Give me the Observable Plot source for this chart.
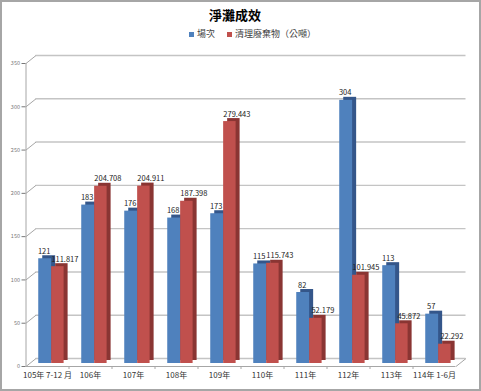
<!DOCTYPE html>
<html>
<head>
<meta charset="utf-8">
<script src="https://cdn.jsdelivr.net/npm/d3@7"></script>
<script src="https://cdn.jsdelivr.net/npm/@observablehq/plot@0.6"></script>
<style>
  html, body { margin: 0; padding: 0; background: #fff; }
  #wrap { width: 481px; height: 391px; box-sizing: border-box; border: 2px solid #a6a6a6; background: #fff;
          font-family: "Noto Sans CJK TC", "Noto Sans", sans-serif; overflow: hidden; }
  #title { height: 26px; line-height: 26px; padding-left: 207px; font-size: 13px; font-weight: bold; color: #000; }
  #legend { height: 12px; line-height: 12px; padding-left: 187px; font-size: 9px; color: #404040; display: flex; align-items: center; }
  #legend .sw { display: inline-block; width: 5px; height: 5px; margin-right: 3px; }
  #legend .item { display: flex; align-items: center; margin-right: 12px; }
  svg { display: block; }
</style>
</head>
<body>
<div id="wrap">
  <div id="title">淨灘成效</div>
  <div id="legend"></div>
  <div id="chart"></div>
</div>
<script>
const categories = ["105年 7-12 月", "106年", "107年", "108年", "109年", "110年", "111年", "112年", "113年", "114年 1-6月"];
const sessions = [121, 183, 176, 168, 173, 115, 82, 304, 113, 57];
const waste = [111.817, 204.708, 204.911, 187.398, 279.443, 115.743, 52.179, 101.945, 45.872, 22.292];
const seriesNames = ["場次", "清理廢棄物（公噸）"];
const yTicks = [0, 50, 100, 150, 200, 250, 300, 350];

const blue = "#4f81bd", blueSide = "#34568a";
const red = "#c0504d", redSide = "#8a3533";

const W = 477, H = 349;
const mL = 23.5, mR = 23.5, mT = 23, mB = 23;
const pxX = (W - mL - mR) / 10;           // px per x unit
const pxY = (H - mT - mB) / 350;          // px per y unit
const BX = 10 / pxX, BY = 8 / pxY;        // back-wall offset in data units

const rows = categories.map((c, i) => ({i, c, s: sessions[i], w: waste[i]}));

// legend
const leg = document.getElementById("legend");
[[blue, seriesNames[0]], [red, seriesNames[1]]].forEach(([col, name]) => {
  const it = document.createElement("span");
  it.className = "item";
  it.innerHTML = `<span class="sw" style="background:${col}"></span><span>${name}</span>`;
  leg.appendChild(it);
});

const gridColor = "#c4c4c4", axisColor = "#a6a6a6";
const font = "Noto Sans CJK TC";

const chart = Plot.plot({
  width: W, height: H,
  marginLeft: mL, marginRight: mR, marginTop: mT, marginBottom: mB,
  style: {fontFamily: font, background: "#fff", overflow: "visible"},
  x: {domain: [-0.5, 9.5], axis: null},
  y: {domain: [0, 350], axis: null},
  marks: [
    // back wall gridlines
    Plot.ruleY(yTicks, {y: t => t + BY, x1: -0.5 + BX, x2: 9.5 + BX, stroke: gridColor, strokeWidth: 1.4}),
    // left side diagonals
    Plot.link(yTicks, {x1: -0.5, y1: t => t, x2: -0.5 + BX, y2: t => t + BY, stroke: axisColor, strokeWidth: 1}),
    // floor right diagonal
    Plot.link([0], {x1: 9.5, y1: 0, x2: 9.5 + BX, y2: BY, stroke: axisColor, strokeWidth: 1}),
    // front vertical axis line
    Plot.ruleX([-0.5], {y1: 0, y2: 350, stroke: axisColor}),
    // floor front edge
    Plot.ruleY([0], {x1: -0.5, x2: 9.5, stroke: axisColor}),
    // blue bars (side/top, then front)
    Plot.rect(rows, {x1: d => d.i - 0.32, x2: d => d.i - 0.02, y1: 0, y2: "s", fill: blueSide, dx: 9, dy: -6}),
    Plot.rect(rows, {x1: d => d.i - 0.32, x2: d => d.i - 0.02, y1: 0, y2: "s", fill: blue, dx: 5, dy: -3}),
    // red bars
    Plot.rect(rows, {x1: d => d.i - 0.02, x2: d => d.i + 0.27, y1: 0, y2: "w", fill: redSide, dx: 9, dy: -6}),
    Plot.rect(rows, {x1: d => d.i - 0.02, x2: d => d.i + 0.27, y1: 0, y2: "w", fill: red, dx: 5, dy: -3}),
    // value labels
    Plot.text(rows, {x: d => d.i - 0.17, y: "s", text: d => String(d.s), dx: 4, dy: -8, lineAnchor: "bottom", fontSize: 7.5, fill: "#222"}),
    Plot.text(rows, {x: d => d.i + 0.125, y: "w", text: d => String(d.w), dx: 12, dy: -8, lineAnchor: "bottom", fontSize: 7.5, fill: "#222"}),
    // axes
    Plot.axisY(yTicks, {tickSize: 4, tickPadding: 2, fontSize: 5.5, color: "#777", label: null}),
    Plot.axisX(d3.range(1, 10).map(i => i - 0.5), {tickSize: 3, tickFormat: () => "", color: axisColor, label: null}),
    Plot.axisX(d3.range(10), {tickSize: 0, tickPadding: 6, tickFormat: i => categories[i], fontSize: 8, color: "#333", label: null})
  ]
});
document.getElementById("chart").appendChild(chart);
</script>
</body>
</html>
